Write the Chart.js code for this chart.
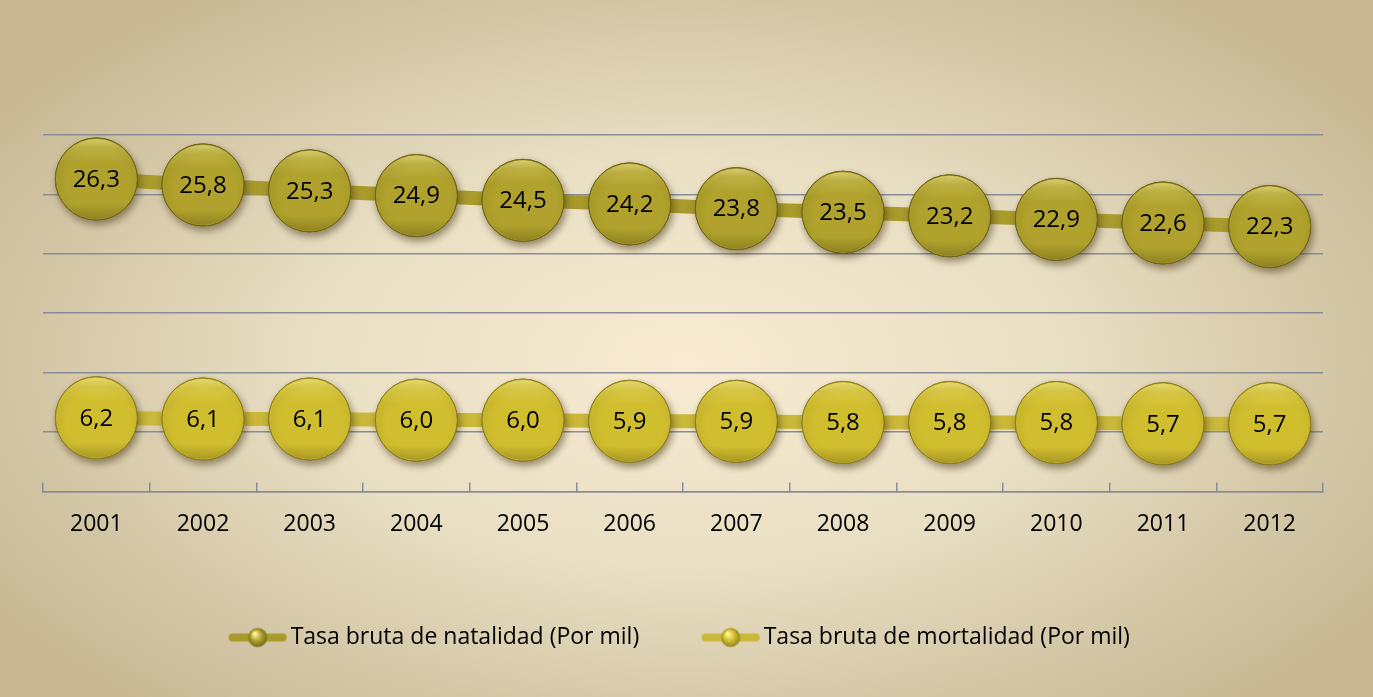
<!DOCTYPE html>
<html lang="es">
<head>
<meta charset="utf-8">
<title>Tasas brutas de natalidad y mortalidad</title>
<script src="https://cdn.jsdelivr.net/npm/chart.js@4/dist/chart.umd.min.js"></script>
<style>
  html, body { margin: 0; padding: 0; }
  body {
    width: 1373px; height: 697px; overflow: hidden;
    background: radial-gradient(ellipse 60% 65% at 50% 52%, #f8ebd2 0%, #e9dfc3 45%, #d3c6a5 80%, #c8b994 100%);
  }
  #wrap { position: relative; width: 1373px; height: 697px; }
</style>
</head>
<body>
<div id="wrap"><canvas id="chartTasas"></canvas></div>
<script>
/* datos */
const anios      = ['2001','2002','2003','2004','2005','2006','2007','2008','2009','2010','2011','2012'];
const natalidad  = [26.3, 25.8, 25.3, 24.9, 24.5, 24.2, 23.8, 23.5, 23.2, 22.9, 22.6, 22.3];
const mortalidad = [6.2, 6.1, 6.1, 6.0, 6.0, 5.9, 5.9, 5.8, 5.8, 5.8, 5.7, 5.7];
const nombres    = ['Tasa bruta de natalidad (Por mil)', 'Tasa bruta de mortalidad (Por mil)'];

const FONT    = '"Open Sans", "DejaVu Sans", sans-serif';
const GRID    = '#878d97';
const COLORES = [
  { fill: '#b0a22c', line: '#a99a2c', edge: '#6e6519' },
  { fill: '#d1be2f', line: '#c9b83a', edge: '#8d7f1c' },
];

// Icono de leyenda: trazo de línea con esfera en el medio
function iconoLeyenda(c) {
  const cv = document.createElement('canvas');
  cv.width = 66; cv.height = 22;
  const g = cv.getContext('2d');
  g.strokeStyle = c.line;
  g.lineWidth = 8;
  g.lineCap = 'round';
  g.beginPath(); g.moveTo(8, 11); g.lineTo(58, 11); g.stroke();
  const rg = g.createRadialGradient(30, 7, 1, 33, 11, 10);
  rg.addColorStop(0, '#fff7a0');
  rg.addColorStop(0.5, c.fill);
  rg.addColorStop(1, c.edge);
  g.fillStyle = rg;
  g.beginPath(); g.arc(33, 11, 9.5, 0, Math.PI * 2); g.fill();
  return cv;
}

// Sombra, brillo y etiqueta de cada burbuja
const burbujas = {
  id: 'burbujas',
  afterDatasetDraw(chart, args) {
    const ctx  = chart.ctx;
    const meta = args.meta;
    const data = chart.data.datasets[args.index].data;
    meta.data.forEach((pt, i) => {
      const r = pt.options.radius;
      ctx.save();
      ctx.shadowColor   = 'rgba(60,45,10,0.5)';
      ctx.shadowBlur    = 7;
      ctx.shadowOffsetX = 2;
      ctx.shadowOffsetY = 4;
      pt.draw(ctx, chart.chartArea);
      ctx.restore();

      // brillo superior y borde inferior más oscuro
      ctx.save();
      ctx.beginPath();
      ctx.arc(pt.x, pt.y, r - 1, 0, Math.PI * 2);
      ctx.clip();
      const lg = ctx.createLinearGradient(0, pt.y - r, 0, pt.y + r);
      lg.addColorStop(0,    'rgba(255,250,170,0.55)');
      lg.addColorStop(0.12, 'rgba(255,250,170,0.18)');
      lg.addColorStop(0.3,  'rgba(255,250,170,0)');
      lg.addColorStop(0.8,  'rgba(0,0,0,0)');
      lg.addColorStop(1,    'rgba(40,30,0,0.22)');
      ctx.fillStyle = lg;
      ctx.fillRect(pt.x - r, pt.y - r, r * 2, r * 2);
      ctx.restore();

      ctx.save();
      ctx.fillStyle = '#000';
      ctx.font = '24px ' + FONT;
      ctx.textAlign = 'center';
      ctx.textBaseline = 'middle';
      ctx.fillText(data[i].toFixed(1).replace('.', ','), pt.x, pt.y + 1);
      ctx.restore();
    });
  }
};

const series = [natalidad, mortalidad];

new Chart(document.getElementById('chartTasas'), {
  type: 'line',
  data: {
    labels: anios,
    datasets: series.map((vals, k) => ({
      label: nombres[k],
      data: vals,
      borderColor: COLORES[k].line,
      borderWidth: 14,
      backgroundColor: COLORES[k].fill,
      legendIcon: iconoLeyenda(COLORES[k]),
      pointStyle: 'circle',
      pointRadius: 41,
      pointHoverRadius: 41,
      pointBackgroundColor: COLORES[k].fill,
      pointBorderColor: COLORES[k].edge,
      pointBorderWidth: 1,
      tension: 0,
      clip: false,
      fill: false,
    })),
  },
  options: {
    responsive: true,
    maintainAspectRatio: false,
    animation: false,
    events: [],
    layout: { padding: { left: 43, right: 50, top: 135, bottom: 38 } },
    scales: {
      x: {
        offset: true,
        border: { display: true, color: GRID, width: 1.5 },
        grid: { offset: true, drawOnChartArea: false, color: GRID, lineWidth: 1.5, tickLength: -9 },
        ticks: { color: '#000', font: { family: FONT, size: 23 }, padding: 28 },
        afterFit(scale) { scale.height -= 10; },
      },
      y: {
        min: 0,
        max: 30,
        border: { display: false },
        grid: { color: GRID, lineWidth: 1.5, drawTicks: false },
        ticks: { display: false, stepSize: 5 },
      },
    },
    plugins: {
      tooltip: { enabled: false },
      legend: {
        position: 'bottom',
        labels: {
          usePointStyle: true,
          pointStyleWidth: 43,
          boxHeight: 23,
          padding: 70,
          color: '#000',
          font: { family: FONT, size: 23 },
          generateLabels(chart) {
            return chart.data.datasets.map((ds, i) => ({
              text: ds.label,
              pointStyle: ds.legendIcon,
              fillStyle: ds.backgroundColor,
              strokeStyle: ds.borderColor,
              lineWidth: 0,
              hidden: false,
              datasetIndex: i,
              fontColor: '#000',
            }));
          },
        },
      },
    },
  },
  plugins: [burbujas],
});
</script>
</body>
</html>
